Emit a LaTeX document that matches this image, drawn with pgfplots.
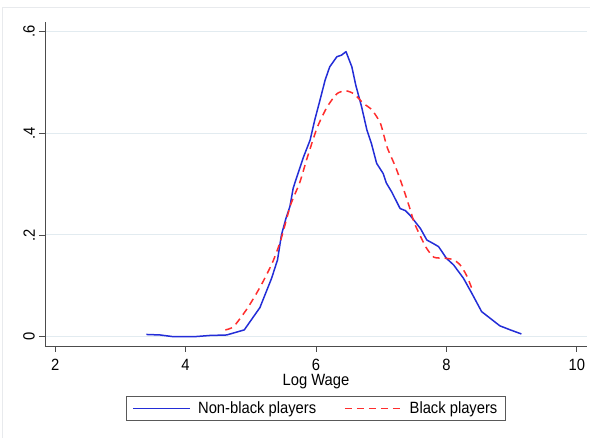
\documentclass[border=0pt]{standalone}
\usepackage{fontspec}
\setmainfont{Liberation Sans}[FakeStretch=0.905]
\usepackage{pgfplots}
\pgfplotsset{compat=1.18}
\definecolor{gridc}{RGB}{226,235,240}
\definecolor{bline}{RGB}{35,45,215}
\definecolor{rline}{RGB}{255,45,45}
\definecolor{frame}{RGB}{232,234,237}
\begin{document}
\fontsize{16.3}{19}\selectfont
\begin{tikzpicture}
\begin{axis}[
  scale only axis,
  width=542pt, height=324.3pt,
  xmin=1.844, xmax=10.156,
  ymin=-0.0187, ymax=0.620,
  axis x line*=bottom, axis y line*=left,
  axis line style={black!70, line width=0.9pt},
  tick align=outside,
  major tick length=6pt,
  tick style={black!70, line width=0.9pt},
  xtick={2,4,6,8,10}, xticklabels={2,4,6,8,10},
  ytick={0,0.2,0.4,0.6}, yticklabels={0,.2,.4,.6},
  yticklabel style={rotate=90, anchor=south, inner sep=4pt},
  xticklabel style={anchor=north, inner sep=0pt, yshift=-7pt},
  ymajorgrids, grid style={gridc, line width=1pt},
  xlabel={Log Wage},
  xlabel style={at={(axis description cs:0.5,0)}, anchor=north, inner sep=0pt, yshift=-28pt},
  legend columns=2,
  legend style={at={(0.5,0)}, anchor=north, yshift=-50pt,
    draw=black!65, line width=0.8pt, inner xsep=6pt, inner ysep=3pt,
    /tikz/every even column/.append style={column sep=26pt},
    font=\fontsize{16.3}{19}\selectfont},
  legend image code/.code={\draw[#1, line width=1.5pt] (0pt,0pt) -- (56.7pt,0pt); \path (62pt,0pt);},
  clip=false,
]
\addplot[bline, line width=1.5pt, line join=round] coordinates {
(3.40,0.004) (3.61,0.003) (3.79,0.000) (4.17,0.000) (4.37,0.002) (4.63,0.003)
(4.90,0.013) (5.14,0.057) (5.32,0.115) (5.41,0.151) (5.47,0.200) (5.54,0.233)
(5.60,0.256) (5.65,0.292) (5.69,0.308) (5.81,0.354) (5.91,0.387) (5.98,0.426)
(6.06,0.465) (6.14,0.505) (6.21,0.531) (6.32,0.551) (6.39,0.554) (6.46,0.561)
(6.55,0.531) (6.61,0.495) (6.70,0.452) (6.78,0.407) (6.85,0.380) (6.93,0.341)
(7.03,0.321) (7.08,0.302) (7.16,0.285) (7.29,0.252) (7.37,0.248) (7.44,0.239)
(7.60,0.213) (7.70,0.190) (7.80,0.183) (7.88,0.177) (8.00,0.154) (8.11,0.141)
(8.26,0.115) (8.39,0.085) (8.54,0.049) (8.67,0.036) (8.82,0.021) (8.98,0.013)
(9.15,0.005)
};
\addlegendentry{Non-black players}
\addplot[rline, line width=1.5pt, dash pattern=on 7pt off 5pt, smooth, tension=0.4] coordinates {
(4.61,0.013) (4.74,0.020) (4.95,0.056) (5.15,0.099) (5.33,0.145) (5.46,0.190)
(5.61,0.259) (5.75,0.303) (5.87,0.354) (6.02,0.412) (6.17,0.452) (6.32,0.478)
(6.45,0.484) (6.58,0.478) (6.73,0.459) (6.86,0.446) (6.99,0.419) (7.09,0.373)
(7.22,0.334) (7.33,0.295) (7.43,0.256) (7.51,0.223) (7.63,0.190) (7.70,0.173)
(7.81,0.156) (8.00,0.154) (8.11,0.151) (8.21,0.141) (8.31,0.120) (8.41,0.088)
};
\addlegendentry{Black players\hspace{4pt}}
\end{axis}
\draw[frame, line width=1pt] ([xshift=-42pt,yshift=-92pt]current axis.south west) -- ([xshift=-42pt,yshift=13.7pt]current axis.north west) -- ([xshift=3pt,yshift=13.7pt]current axis.north east);
\pgfresetboundingbox
\path ([xshift=-45pt,yshift=-92pt]current axis.south west) rectangle ([xshift=3pt,yshift=21.7pt]current axis.north east);
\end{tikzpicture}
\end{document}
